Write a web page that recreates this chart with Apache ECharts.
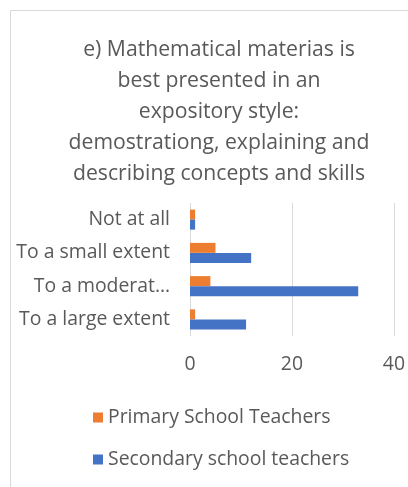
<!DOCTYPE html>
<html>
<head>
<meta charset="utf-8">
<script src="https://cdn.jsdelivr.net/npm/echarts@6/dist/echarts.min.js"></script>
<style>
  html, body { margin: 0; padding: 0; background: #fff; }
  #chart { width: 408px; height: 487px; }
</style>
</head>
<body>
<div id="chart"></div>
<script>
const titleText = 'e) Mathematical materias is\nbest presented in an\nexpository style:\ndemostrationg, explaining and\ndescribing concepts and skills'
// bottom to top, as ECharts lays out a category y axis
const categories = ['To a large extent', 'To a moderate extent', 'To a small extent', 'Not at all']
const primaryTeachers = [1, 4, 5, 1]
const secondaryTeachers = [11, 33, 12, 1]
const xTicks = [0, 20, 40]

const textColor = '#595959'
const gridColor = '#d9d9d9'
const orange = '#ed7d31'
const blue = '#4472c4'
const font = 'Open Sans'

// Excel cut the long label short
const shortLabel = (value) => (value.length > 18 ? value.slice(0, 12) + '…' : value)

const chart = echarts.init(document.getElementById('chart'))

chart.setOption({
  animation: false,
  textStyle: { fontFamily: font },
  graphic: [
    {
      type: 'rect',
      shape: { x: 10.5, y: 10.5, width: 420, height: 500 },
      style: { fill: 'none', stroke: gridColor, lineWidth: 1 },
      silent: true,
    },
  ],
  title: {
    text: titleText,
    left: 214,
    textAlign: 'center',
    top: 29,
    textStyle: {
      color: textColor,
      fontSize: 21.2,
      fontWeight: 'normal',
      lineHeight: 31,
      fontFamily: font,
    },
  },
  legend: {
    orient: 'vertical',
    left: 88,
    top: 403,
    itemGap: 23,
    itemWidth: 10,
    itemHeight: 10,
    icon: 'rect',
    data: ['Primary School Teachers', 'Secondary school teachers'],
    textStyle: { color: textColor, fontSize: 19.4, fontFamily: font },
  },
  grid: {
    left: 190,
    right: 14,
    top: 203,
    bottom: 151,
  },
  xAxis: {
    type: 'value',
    min: xTicks[0],
    max: xTicks[xTicks.length - 1],
    interval: xTicks[1] - xTicks[0],
    axisLine: { show: false },
    axisTick: { show: false },
    axisLabel: { color: textColor, fontSize: 19.4, margin: 19 },
    splitLine: { lineStyle: { color: gridColor, width: 1 } },
  },
  yAxis: {
    type: 'category',
    data: categories,
    axisLine: { show: false },
    axisTick: { show: false },
    axisLabel: {
      color: textColor,
      fontSize: 19.4,
      margin: 20,
      formatter: shortLabel,
    },
  },
  series: [
    {
      name: 'Primary School Teachers',
      type: 'bar',
      data: primaryTeachers,
      itemStyle: { color: orange },
      barWidth: 10,
      barGap: '0%',
    },
    {
      name: 'Secondary school teachers',
      type: 'bar',
      data: secondaryTeachers,
      itemStyle: { color: blue },
      barWidth: 10,
      barGap: '0%',
    },
  ],
})
</script>
</body>
</html>
